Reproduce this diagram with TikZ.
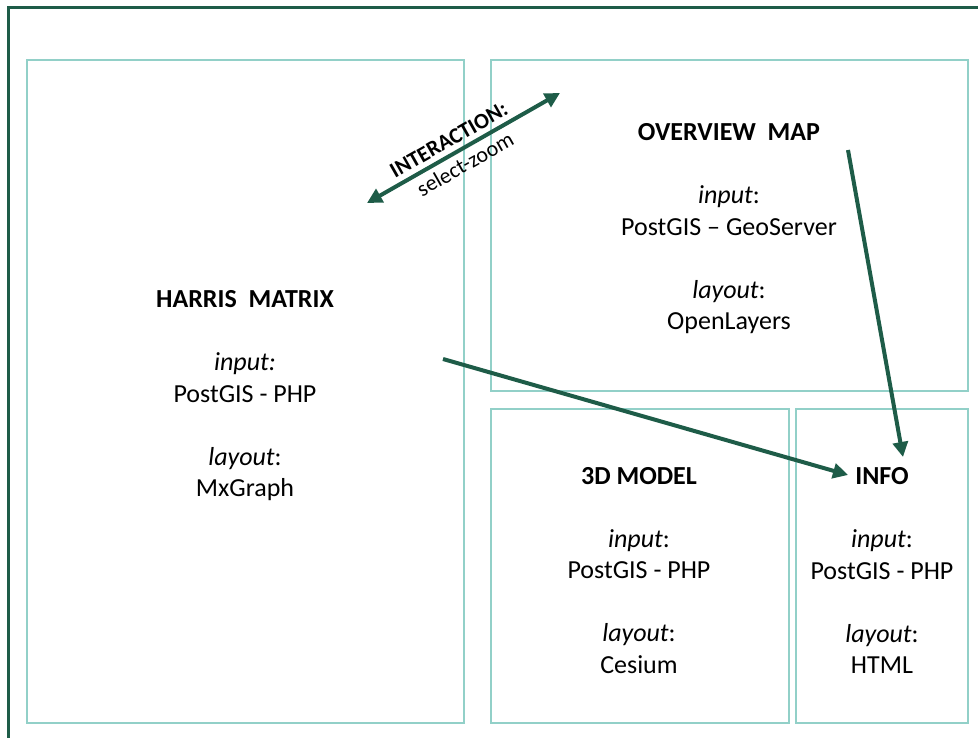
\documentclass[tikz,border=0pt]{standalone}
\usepackage{fontspec}
\setmainfont{Carlito}
\usetikzlibrary{arrows.meta}
\definecolor{frame}{RGB}{30,92,72}
\definecolor{panelc}{RGB}{146,208,200}
\tikzset{
  panel/.style={draw=panelc, line width=2pt, inner sep=0pt, fill=none},
  txt/.style={align=center, inner sep=0pt, font=\fontsize{26}{31.5}\selectfont, text=black},
  conn/.style={draw=frame, line width=4pt, -{Triangle[length=15pt,width=15pt]}},
  biconn/.style={draw=frame, line width=4pt, {Triangle[length=15pt,width=15pt]}-{Triangle[length=15pt,width=15pt]}},
  lab/.style={font=\fontsize{22}{24}\selectfont, inner sep=5pt, text=black}
}
\begin{document}
\begin{tikzpicture}[x=1pt,y=-1pt]
\useasboundingbox (0,0) rectangle (978,738);
\clip (0,0) rectangle (978,738);
% outer frame
\draw[frame, line width=3pt] (8.5,760) -- (8.5,7.5) -- (1000,7.5);
% panels
\node[panel, minimum width=437pt, minimum height=663pt] (harris) at (245.5,391.5) {};
\node[panel, minimum width=477pt, minimum height=331pt] (overview) at (729.5,225.5) {};
\node[panel, minimum width=298pt, minimum height=314pt] (model) at (640,566) {};
\node[panel, minimum width=172pt, minimum height=314pt] (info) at (882,566) {};
% texts
\node[txt] (harristxt) at (245,396) {\textbf{HARRIS\ \ MATRIX}\\[31.5pt] \textit{input:}\\ PostGIS - PHP\\[31.5pt] \textit{layout}:\\ MxGraph};
\node[txt] (overviewtxt) at (729,229) {\textbf{OVERVIEW\ \ MAP}\\[31.5pt] \textit{input}:\\ PostGIS -- GeoServer\\[31.5pt] \textit{layout}:\\ OpenLayers};
\node[txt] (modeltxt) at (639,570.5) {\textbf{3D MODEL}\\[31.5pt] \textit{input}:\\ PostGIS - PHP\\[31.5pt] \textit{layout}:\\ Cesium};
\node[txt] (infotxt) at (882,570.5) {\textbf{INFO}\\[31.5pt] \textit{input}:\\ PostGIS - PHP\\[31.5pt] \textit{layout}:\\ HTML};
% connector end points
\coordinate (ia) at (367,203);
\coordinate (ib) at (560,93);
\coordinate (hstart) at (443,359);
\coordinate (infoin1) at (848,475);
\coordinate (ostart) at (848,150);
\coordinate (infoin2) at (903,457);
% connectors
\draw[biconn] (ia) -- node[lab, sloped, above, pos=0.46] {\textbf{INTERACTION:}} node[lab, sloped, below, pos=0.47] {select-zoom} (ib);
\draw[conn] (hstart) -- (infoin1);
\draw[conn] (ostart) -- (infoin2);
\end{tikzpicture}
\end{document}
